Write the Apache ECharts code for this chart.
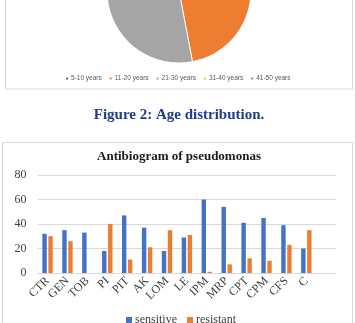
<!DOCTYPE html>
<html>
<head>
<meta charset="utf-8">
<script src="https://cdn.jsdelivr.net/npm/echarts@6/dist/echarts.min.js"></script>
<style>
html,body{margin:0;padding:0;background:#fff;}
#c{width:355px;height:323px;}
</style>
</head>
<body>
<div id="c"></div>
<script>
// Pie (age distribution) — only the lower part is visible in the reference
const ageGroups = ['5-10 years', '11-20 years', '21-30 years', '31-40 years', '41-50 years'];
const ageValues = [12, 35, 40, 8, 5];
const ageColors = ['#4472C4', '#ED7D31', '#A5A5A5', '#FFC000', '#5B9BD5'];

// Bar chart (antibiogram)
const drugs = ['CTR', 'GEN', 'TOB', 'PI', 'PIT', 'AK', 'LOM', 'LE', 'IPM', 'MRP', 'CPT', 'CPM', 'CFS', 'C', ''];
const sensitive = [32, 35, 33, 18, 47, 37, 18, 29, 60, 54, 41, 45, 39, 20, null];
const resistant = [30, 26, 0, 40, 11, 21, 35, 31, 1, 7, 12, 10, 23, 35, null];
const yTicks = [0, 20, 40, 60, 80];

const serif = '"Liberation Serif", "Times New Roman", serif';
const chart = echarts.init(document.getElementById('c'), null, {renderer: 'canvas'});
chart.setOption({
  animation: false,
  graphic: [
    {type: 'rect', shape: {x: 5.5, y: -5, width: 347, height: 94}, style: {fill: 'none', stroke: '#d9d9d9', lineWidth: 1}, z: -1},
    {type: 'rect', shape: {x: 2.5, y: 142.5, width: 350, height: 200}, style: {fill: 'none', stroke: '#d9d9d9', lineWidth: 1}, z: -1}
  ],
  title: [
    {text: 'Figure 2: Age distribution.', left: 179, top: 108, textAlign: 'center', padding: 0,
     textStyle: {fontFamily: serif, fontWeight: 'bold', fontSize: 15, color: '#1F3D8C'}},
    {text: 'Antibiogram of pseudomonas', left: 179, top: 150, textAlign: 'center', padding: 0,
     textStyle: {fontFamily: serif, fontWeight: 'bold', fontSize: 13, color: '#1a1a1a'}}
  ],
  legend: [
    {data: ageGroups, left: 64, top: 75, orient: 'horizontal', itemWidth: 4, itemHeight: 4, itemGap: 6,
     icon: 'rect', padding: 0,
     textStyle: {fontFamily: '"Liberation Sans", Arial, sans-serif', fontSize: 6.5, color: '#595959', width: 38, padding: [0,0,0,-3]}},
    {data: ['sensitive', 'resistant'], left: 126, top: 314, itemWidth: 6, itemHeight: 6, itemGap: 10,
     icon: 'rect', padding: 0,
     textStyle: {fontFamily: serif, fontSize: 12, color: '#404040', padding: [0,0,0,-2]}}
  ],
  grid: {left: 37.6, right: 18.8, top: 175, bottom: 50, containLabel: false},
  xAxis: {
    type: 'category', data: drugs,
    axisLine: {lineStyle: {color: '#d9d9d9'}},
    axisTick: {show: false},
    axisLabel: {interval: 0, rotate: 45, margin: 6, fontFamily: serif, fontSize: 12, color: '#404040'}
  },
  yAxis: {
    type: 'value', min: 0, max: 80, interval: 20,
    axisLine: {show: false}, axisTick: {show: false},
    splitLine: {lineStyle: {color: '#d9d9d9'}},
    axisLabel: {margin: 11, fontFamily: serif, fontSize: 12, color: '#404040',
      formatter: v => yTicks.includes(v) ? String(v) : ''}
  },
  series: [
    {type: 'pie', center: [179, -9], radius: 72, startAngle: 90, clockwise: true,
     label: {show: false}, labelLine: {show: false},
     itemStyle: {borderColor: '#fff', borderWidth: 1},
     data: ageGroups.map((n, i) => ({name: n, value: ageValues[i], itemStyle: {color: ageColors[i]}}))},
    {type: 'bar', name: 'sensitive', data: sensitive, barWidth: 4.4, barGap: '36%', itemStyle: {color: '#4472C4'}},
    {type: 'bar', name: 'resistant', data: resistant, barWidth: 4.4, barGap: '36%', itemStyle: {color: '#ED7D31'}}
  ]
});
</script>
</body>
</html>
